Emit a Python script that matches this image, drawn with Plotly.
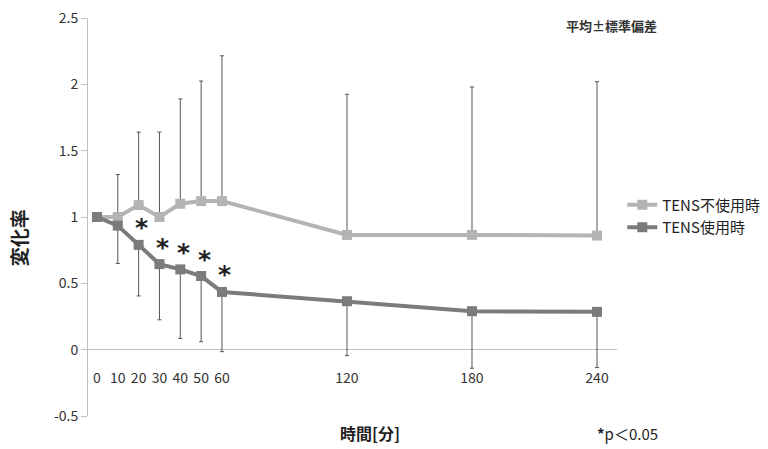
"""Change rate over time, with and without TENS (mean ± SD)."""

import plotly.graph_objects as go

# time points (minutes)
times = [0, 10, 20, 30, 40, 50, 60, 120, 180, 240]

# TENS not used: mean and SD (upper bar only)
no_tens_mean = [1.00, 1.00, 1.09, 1.00, 1.10, 1.12, 1.12, 0.865, 0.865, 0.86]
no_tens_sd = [0.0, 0.32, 0.55, 0.64, 0.79, 0.905, 1.095, 1.06, 1.115, 1.16]

# TENS used: mean and SD (lower bar only)
tens_mean = [1.00, 0.935, 0.79, 0.645, 0.605, 0.555, 0.435, 0.365, 0.29, 0.285]
tens_sd = [0.0, 0.285, 0.385, 0.42, 0.52, 0.495, 0.45, 0.41, 0.43, 0.42]

# time points with p < 0.05
significant_times = [20, 30, 40, 50, 60]

y_tickvals = [-0.5, 0, 0.5, 1, 1.5, 2, 2.5]
y_ticktext = ["-0.5", "0", "0.5", "1", "1.5", "2", "2.5"]

FONT = "Noto Sans CJK JP"
LIGHT = "#b4b4b4"
DARK = "#7b7b7b"
ERR = "#555555"
zeros = [0] * len(times)

fig = go.Figure()
fig.add_trace(
    go.Scatter(
        x=times,
        y=no_tens_mean,
        name="TENS不使用時",
        mode="lines+markers",
        line=dict(color=LIGHT, width=4),
        marker=dict(symbol="square", size=10, color=LIGHT),
        error_y=dict(type="data", symmetric=False, array=no_tens_sd, arrayminus=zeros,
                     color=ERR, thickness=1, width=2),
    )
)
fig.add_trace(
    go.Scatter(
        x=times,
        y=tens_mean,
        name="TENS使用時",
        mode="lines+markers",
        line=dict(color=DARK, width=4),
        marker=dict(symbol="square", size=10, color=DARK),
        error_y=dict(type="data", symmetric=False, array=zeros, arrayminus=tens_sd,
                     color=ERR, thickness=1, width=2),
    )
)

# asterisks above the significant points
for t in significant_times:
    fig.add_annotation(
        x=t, y=tens_mean[times.index(t)], text="<b>*</b>", showarrow=False,
        xshift=3, yshift=17, font=dict(family="DejaVu Sans", size=25, color="#222"),
    )

fig.add_annotation(xref="paper", yref="paper", x=0.533, y=-0.043, yanchor="middle",
                   xanchor="center", text="<b>時間[分]</b>", showarrow=False,
                   font=dict(family=FONT, size=16, color="#222"))
fig.add_annotation(xref="paper", yref="paper", x=1.019, y=-0.043, yanchor="middle",
                   xanchor="center", text="<b>*</b>p＜0.05", showarrow=False,
                   font=dict(family=FONT, size=15, color="#222"))
fig.add_annotation(xref="paper", yref="paper", x=0.989, y=0.982, yanchor="middle",
                   xanchor="center", text="<b>平均±標準偏差</b>", showarrow=False,
                   font=dict(family=FONT, size=13, color="#333"))
fig.add_annotation(xref="paper", yref="paper", x=-0.132, y=0.447, yanchor="middle",
                   xanchor="center", textangle=-90, text="<b>変化率</b>", showarrow=False,
                   font=dict(family=FONT, size=19, color="#222"))

fig.update_layout(
    width=768,
    height=449,
    margin=dict(l=88, r=151, t=18, b=33, autoexpand=False),
    paper_bgcolor="white",
    plot_bgcolor="white",
    font=dict(family=FONT, size=13, color="#333"),
    showlegend=True,
    legend=dict(x=1.01, y=0.5025, yanchor="middle", xanchor="left",
                font=dict(family=FONT, size=15, color="#222"),
                tracegroupgap=0, itemwidth=30),
    xaxis=dict(
        range=[-4.3, 249.6], tickvals=times, showline=False, showgrid=False,
        zeroline=False, ticks="", anchor="free", position=0.12,
        automargin=False, tickfont=dict(size=14, color="#333"),
    ),
    yaxis=dict(
        range=[-0.5, 2.5], tickvals=y_tickvals, ticktext=y_ticktext,
        showline=True, linecolor="#c0c0c0", linewidth=1, showgrid=False,
        zeroline=True, zerolinecolor="#c0c0c0", zerolinewidth=1,
        ticks="outside", ticklen=6, tickcolor="#c0c0c0", automargin=False,
        tickfont=dict(size=14, color="#333"),
    ),
)

# the page's default body margin would push the figure 8px right and down
fig.write_html(
    "out.html",
    config={"displayModeBar": False},
    post_script="document.body.style.margin = '0';",
)
